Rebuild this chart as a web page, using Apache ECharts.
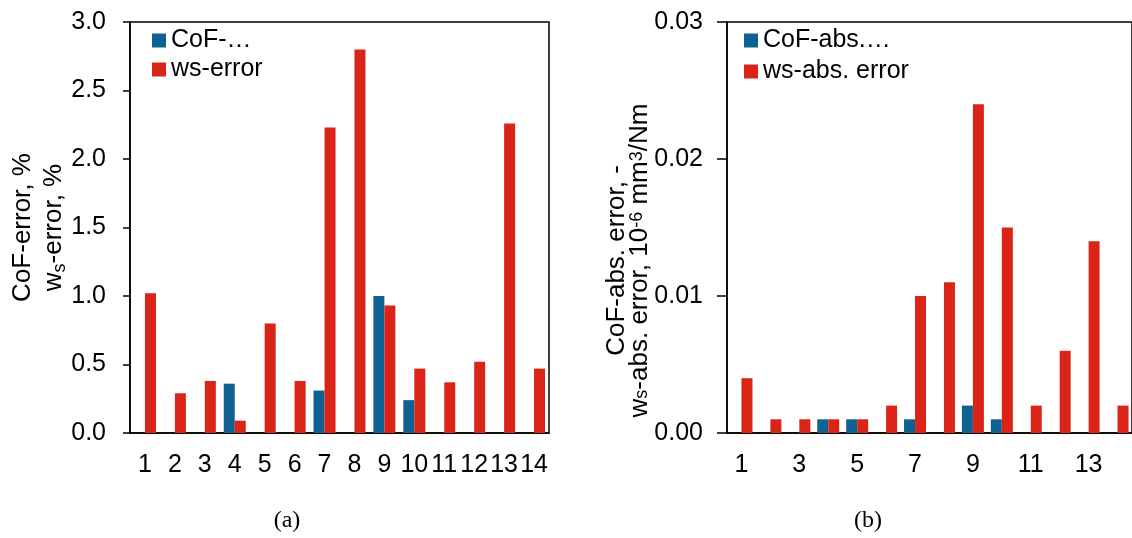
<!DOCTYPE html>
<html>
<head>
<meta charset="utf-8">
<script src="https://cdn.jsdelivr.net/npm/echarts@6/dist/echarts.min.js"></script>
<style>
html,body{margin:0;padding:0;background:#fff;}
#chart{width:1132px;height:538px;}
</style>
</head>
<body>
<div id="chart"></div>
<script>
// ---- data ----
const categories = ['1','2','3','4','5','6','7','8','9','10','11','12','13','14'];
const seriesNamesA = ['CoF-error', 'ws-error'];
const cofError = [0, 0, 0, 0.36, 0, 0, 0.31, 0, 1.00, 0.24, 0, 0, 0, 0];
const wsError  = [1.02, 0.29, 0.38, 0.09, 0.80, 0.38, 2.23, 2.80, 0.93, 0.47, 0.37, 0.52, 2.26, 0.47];
const seriesNamesB = ['CoF-abs. error', 'ws-abs. error'];
const cofAbsError = [0, 0, 0, 0.001, 0.001, 0, 0.001, 0, 0.002, 0.001, 0, 0, 0, 0];
const wsAbsError  = [0.004, 0.001, 0.001, 0.001, 0.001, 0.002, 0.010, 0.011, 0.024, 0.015, 0.002, 0.006, 0.014, 0.002];
const legendShown = {'CoF-error': 'CoF-…', 'ws-error': 'ws-error', 'CoF-abs. error': 'CoF-abs.…', 'ws-abs. error': 'ws-abs. error'};
const captions = ['(a)', '(b)'];

// ---- styles ----
const BLUE = '#0f6192';
const RED = '#d92417';
const FONT = '"Liberation Sans", Arial, sans-serif';
const tickFont = 25;

const chart = echarts.init(document.getElementById('chart'), null, {renderer: 'canvas'});

function yAxisCommon(gridIndex, min, max, interval, digits, tickLen) {
  return {
    type: 'value', gridIndex, min, max, interval,
    axisLine: {show: true, lineStyle: {color: '#000', width: 1.5}},
    axisTick: {show: true, length: tickLen, lineStyle: {color: '#000', width: 1.5}},
    splitLine: {show: false},
    axisLabel: {color: '#000', fontFamily: FONT, fontSize: tickFont, margin: 24,
      formatter: v => v.toFixed(digits)},
    nameLocation: 'middle', nameRotate: 90, nameMoveOverlap: false
  };
}
function xAxisCommon(gridIndex, interval) {
  return {
    type: 'category', gridIndex, data: categories,
    axisLine: {show: true, lineStyle: {color: '#000', width: 1.5}},
    axisTick: {show: false},
    axisLabel: {color: '#000', fontFamily: FONT, fontSize: tickFont, margin: 20, interval}
  };
}

const richBase = (lh) => ({
  n: {fontFamily: FONT, fontSize: 26, color: '#000', lineHeight: lh},
  sub: {fontFamily: FONT, fontSize: 18, color: '#000', verticalAlign: 'bottom', lineHeight: 15},
  sup: {fontFamily: FONT, fontSize: 18, color: '#000', verticalAlign: 'top', lineHeight: 12}
});

const yA = yAxisCommon(0, 0, 3, 0.5, 1, 7);
yA.name = '{n|CoF-error, %}\n{n|w}{sub|s}{n|-error, %}';
yA.nameGap = 61;
yA.nameTextStyle = {rich: richBase(31)};

const yB = yAxisCommon(1, 0, 0.03, 0.01, 2, 10);
yB.name = '{n|CoF-abs. error, -}\n{n|w}{sub|s}{n|-abs. error, 10}{sup|-6}{n| mm}{sup|3}{n|/Nm}';
yB.nameGap = 76;
yB.nameTextStyle = {rich: richBase(23), padding: [0, 66, 0, 0]};

const barBase = {type: 'bar', barWidth: 11, barGap: '0%'};

chart.setOption({
  animation: false,
  backgroundColor: '#fff',
  textStyle: {fontFamily: FONT},
  grid: [
    {left: 130, top: 22, width: 419, height: 411, show: true, borderColor: '#000', borderWidth: 1.5, containLabel: false},
    {left: 727, top: 22, width: 406, height: 411, show: true, borderColor: '#000', borderWidth: 1.5, containLabel: false}
  ],
  legend: [
    {data: seriesNamesA, orient: 'vertical', left: 147, top: 23, itemWidth: 14, itemHeight: 14, itemGap: 4, icon: 'rect',
     textStyle: {color: '#000', fontFamily: FONT, fontSize: 25}, formatter: n => legendShown[n]},
    {data: seriesNamesB, orient: 'vertical', left: 739, top: 23, itemWidth: 14, itemHeight: 14, itemGap: 6, icon: 'rect',
     textStyle: {color: '#000', fontFamily: FONT, fontSize: 25}, formatter: n => legendShown[n]}
  ],
  xAxis: [xAxisCommon(0, 0), xAxisCommon(1, 1)],
  yAxis: [yA, yB],
  series: [
    Object.assign({}, barBase, {name: seriesNamesA[0], xAxisIndex: 0, yAxisIndex: 0, data: cofError, itemStyle: {color: BLUE}}),
    Object.assign({}, barBase, {name: seriesNamesA[1], xAxisIndex: 0, yAxisIndex: 0, data: wsError, itemStyle: {color: RED}}),
    Object.assign({}, barBase, {name: seriesNamesB[0], xAxisIndex: 1, yAxisIndex: 1, data: cofAbsError, itemStyle: {color: BLUE}}),
    Object.assign({}, barBase, {name: seriesNamesB[1], xAxisIndex: 1, yAxisIndex: 1, data: wsAbsError, itemStyle: {color: RED}})
  ],
  graphic: [
    {type: 'text', x: 287, y: 521, style: {text: captions[0], font: '24px "Liberation Serif", serif', fill: '#000', align: 'center', verticalAlign: 'middle'}},
    {type: 'text', x: 868, y: 521, style: {text: captions[1], font: '24px "Liberation Serif", serif', fill: '#000', align: 'center', verticalAlign: 'middle'}}
  ]
});
</script>
</body>
</html>
